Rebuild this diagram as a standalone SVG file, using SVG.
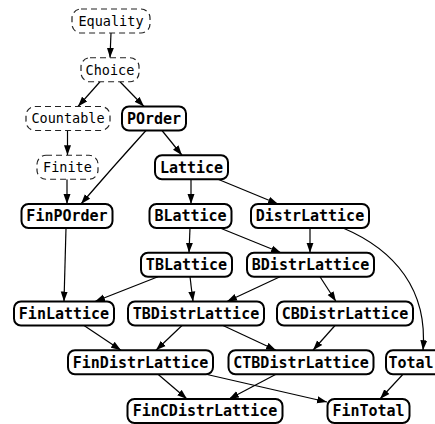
<svg xmlns="http://www.w3.org/2000/svg" width="435" height="424" viewBox="0 0 435 424">
<defs>
<marker id="arr" markerUnits="userSpaceOnUse" markerWidth="10" markerHeight="8" refX="10" refY="4" orient="auto">
<path d="M0,0.5 L10,4 L0,7.5 z" fill="#000"/>
</marker>
<style>
.b rect{fill:#fff;stroke:#000;stroke-width:2}
.d rect{fill:#fff;stroke:#222;stroke-width:1.2;stroke-dasharray:6,4}
.b text{font-family:"DejaVu Sans Mono",monospace;font-weight:bold;font-size:15px;text-anchor:middle}
.d text{font-family:"DejaVu Sans Mono",monospace;font-size:13.5px;text-anchor:middle}
#edges path{fill:none;stroke:#000;stroke-width:1.2;marker-end:url(#arr)}
</style>
</defs>
<rect width="435" height="424" fill="#fff"/>
<g id="edges">
<path d="M111,33 L110,57.75"/>
<path d="M100,81.75 L78,106.5"/>
<path d="M120,81.75 L144,106.5"/>
<path d="M67.5,130.5 L67.5,155.25"/>
<path d="M146,130.5 Q112,168 81,204"/>
<path d="M162,130.5 L182,155.25"/>
<path d="M67,179.25 L67,204"/>
<path d="M191,179.25 L191,204"/>
<path d="M218,179.25 L278,204"/>
<path d="M66,228 L64,301.5"/>
<path d="M190,228 L189,252.75"/>
<path d="M220,228 L281,252.75"/>
<path d="M310,228 L310,252.75"/>
<path d="M343,228 C395,250 428,290 423,350.25"/>
<path d="M158,276.75 L95,301.5"/>
<path d="M190,276.75 L193,301.5"/>
<path d="M280,276.75 L227,301.5"/>
<path d="M320,276.75 L336,301.5"/>
<path d="M84,325.5 L121,350.25"/>
<path d="M182,325.5 L156,350.25"/>
<path d="M223,325.5 L276,350.25"/>
<path d="M335,325.5 L313,350.25"/>
<path d="M158,374.25 L187,399"/>
<path d="M206,374.25 L327,402"/>
<path d="M276,374.25 L229,399"/>
<path d="M403,374.25 L380,399"/>
</g>
<g id="Equality" class="d"><rect x="72" y="9" width="78" height="24" rx="9"/><text x="111" y="25.8">Equality</text></g>
<g id="Choice" class="d"><rect x="81" y="57.75" width="58" height="24" rx="9"/><text x="110" y="74.5">Choice</text></g>
<g id="Countable" class="d"><rect x="26" y="106.5" width="84" height="24" rx="9"/><text x="68" y="123.3">Countable</text></g>
<g id="Finite" class="d"><rect x="37" y="155.25" width="61" height="24" rx="9"/><text x="67.5" y="172">Finite</text></g>
<g id="POrder" class="b"><rect x="122" y="106.5" width="64" height="24" rx="7"/><text x="154" y="123.8">POrder</text></g>
<g id="Lattice" class="b"><rect x="155" y="155.25" width="73" height="24" rx="7"/><text x="191.5" y="172.5">Lattice</text></g>
<g id="FinPOrder" class="b"><rect x="21.5" y="204" width="91" height="24" rx="7"/><text x="67" y="221.3">FinPOrder</text></g>
<g id="BLattice" class="b"><rect x="149.5" y="204" width="82" height="24" rx="7"/><text x="190.5" y="221.3">BLattice</text></g>
<g id="DistrLattice" class="b"><rect x="251" y="204" width="118" height="24" rx="7"/><text x="310" y="221.3">DistrLattice</text></g>
<g id="TBLattice" class="b"><rect x="141" y="252.75" width="91" height="24" rx="7"/><text x="186.5" y="270">TBLattice</text></g>
<g id="BDistrLattice" class="b"><rect x="247" y="252.75" width="127" height="24" rx="7"/><text x="310.5" y="270">BDistrLattice</text></g>
<g id="FinLattice" class="b"><rect x="14" y="301.5" width="100" height="24" rx="7"/><text x="64" y="318.8">FinLattice</text></g>
<g id="TBDistrLattice" class="b"><rect x="128" y="301.5" width="136" height="24" rx="7"/><text x="196" y="318.8">TBDistrLattice</text></g>
<g id="CBDistrLattice" class="b"><rect x="277" y="301.5" width="136" height="24" rx="7"/><text x="345" y="318.8">CBDistrLattice</text></g>
<g id="FinDistrLattice" class="b"><rect x="68" y="350.25" width="145" height="24" rx="7"/><text x="140.5" y="367.5">FinDistrLattice</text></g>
<g id="CTBDistrLattice" class="b"><rect x="228.5" y="350.25" width="145" height="24" rx="7"/><text x="301" y="367.5">CTBDistrLattice</text></g>
<g id="Total" class="b"><rect x="386" y="350.25" width="58" height="24" rx="7"/><text x="411" y="367.5">Total</text></g>
<g id="FinCDistrLattice" class="b"><rect x="127.5" y="399" width="155" height="24" rx="7"/><text x="205" y="416.3">FinCDistrLattice</text></g>
<g id="FinTotal" class="b"><rect x="327.5" y="399" width="82" height="24" rx="7"/><text x="368.5" y="416.3">FinTotal</text></g>
</svg>
